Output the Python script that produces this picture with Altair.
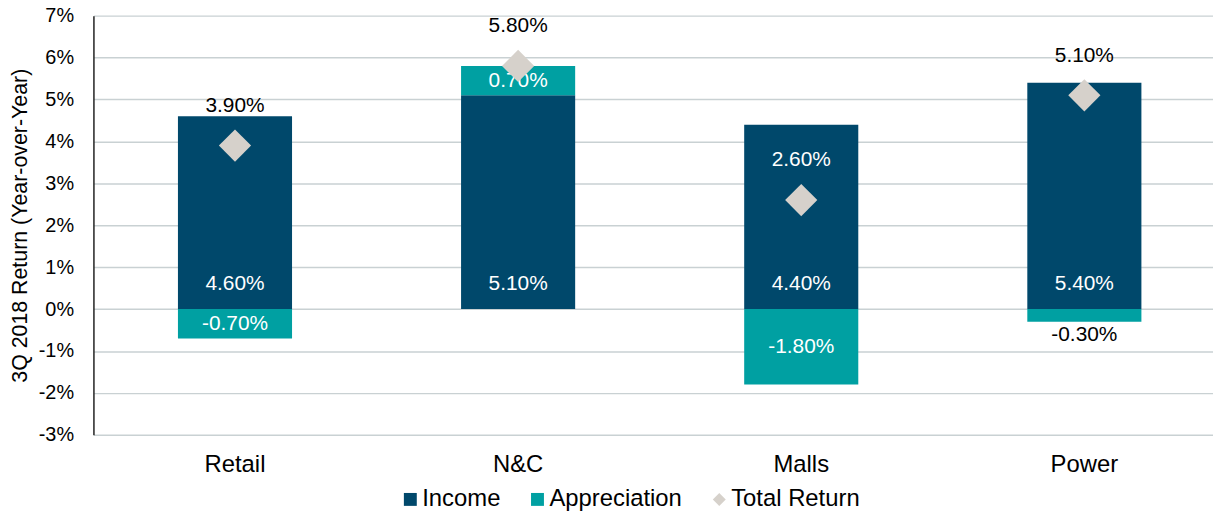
import altair as alt
import pandas as pd

categories = ["Retail", "N&C", "Malls", "Power"]
income = [4.6, 5.1, 4.4, 5.4]
appreciation = [-0.7, 0.7, -1.8, -0.3]
total_return = [3.9, 5.8, 2.6, 5.1]
series_names = ["Income", "Appreciation", "Total Return"]
series_colors = ["#00486B", "#00A0A2", "#D6D1CB"]
series_shapes = ["square", "square", "diamond"]
y_ticks = [-3, -2, -1, 0, 1, 2, 3, 4, 5, 6, 7]
y_title = "3Q 2018 Return (Year-over-Year)"

FONT = "Liberation Sans"

rows = []
for c, inc, app in zip(categories, income, appreciation):
    rows.append(dict(category=c, series="Income", start=0.0, end=inc, value=inc))
    if app >= 0:
        s, e = inc, inc + app
    else:
        s, e = 0.0, app
    rows.append(dict(category=c, series="Appreciation", start=s, end=e, value=app))
bars = pd.DataFrame(rows)
bars["mid"] = (bars["start"] + bars["end"]) / 2
bars["label"] = bars["value"].map(lambda v: f"{v:.2f}%")

tot = pd.DataFrame(dict(
    category=categories,
    series="Total Return",
    value=total_return,
    top=[i + max(a, 0) for i, a in zip(income, appreciation)],
))
tot["label"] = tot["value"].map(lambda v: f"{v:.2f}%")

color_scale = alt.Scale(domain=series_names, range=series_colors)
shape_scale = alt.Scale(domain=series_names, range=series_shapes)

x_enc = alt.X(
    "category:N",
    sort=categories,
    scale=alt.Scale(range=[0, 1140], paddingInner=0.597, paddingOuter=0.2985),
    axis=alt.Axis(title=None, domain=False, ticks=False, tickSize=0, labelAngle=0,
                  labelFont=FONT, labelFontSize=24, labelColor="#000000",
                  labelPadding=18),
)

y_scale = alt.Scale(domain=[-3, 7], nice=False, zero=False)

legend = alt.Legend(
    title=None, orient="none", legendX=307, legendY=475, direction="horizontal",
    labelFont=FONT, labelFontSize=24, labelColor="#000000", symbolSize=169,
    symbolStrokeWidth=0, labelOffset=0, columnPadding=25, padding=0,
    symbolOpacity=1,
)

bar_layer = alt.Chart(bars).mark_bar(opacity=1).encode(
    x=x_enc,
    y=alt.Y("start:Q", scale=y_scale, axis=alt.Axis(
        values=y_ticks, labelExpr="datum.value + '%'", grid=True,
        gridColor="#C9D1D3", gridWidth=1.5, domain=True, domainColor="#222222",
        domainWidth=1.5, ticks=False, tickSize=0, labelPadding=20,
        labelFont=FONT, labelFontSize=20, labelColor="#000000",
        title=y_title, titleFont=FONT, titleFontSize=21.5, titleFontWeight="normal",
        titleColor="#000000", titlePadding=7)),
    y2="end:Q",
    color=alt.Color("series:N", scale=color_scale, legend=legend),
)

income_text = alt.Chart(bars).transform_filter(
    alt.datum.series == "Income"
).mark_text(font=FONT, fontSize=21, color="white", baseline="middle", dy=-25).encode(
    x=alt.X("category:N", sort=categories),
    y=alt.Y("start:Q", scale=y_scale),
    text="label:N",
)

app_inside = alt.Chart(bars).transform_filter(
    "datum.series == 'Appreciation' && abs(datum.value) >= 0.5"
).mark_text(font=FONT, fontSize=21, color="white", baseline="middle").encode(
    x=alt.X("category:N", sort=categories),
    y=alt.Y("mid:Q", scale=y_scale),
    text="label:N",
)

app_outside = alt.Chart(bars).transform_filter(
    "datum.series == 'Appreciation' && abs(datum.value) < 0.5"
).mark_text(font=FONT, fontSize=21, color="black", baseline="middle", dy=13).encode(
    x=alt.X("category:N", sort=categories),
    y=alt.Y("end:Q", scale=y_scale),
    text="label:N",
)

points = alt.Chart(tot).mark_point(filled=True, size=1050,
                                   opacity=1, strokeWidth=0).encode(
    x=alt.X("category:N", sort=categories),
    y=alt.Y("value:Q", scale=y_scale),
    color=alt.Color("series:N", scale=color_scale, legend=legend),
    shape=alt.Shape("series:N", scale=shape_scale, legend=legend),
)

tot_text = alt.Chart(tot).mark_text(font=FONT, fontSize=21, baseline="middle",
                                    dy=-40).encode(
    x=alt.X("category:N", sort=categories),
    y=alt.Y("value:Q", scale=y_scale),
    text="label:N",
    color=alt.condition("datum.value + 0.95 < datum.top", alt.value("white"),
                        alt.value("black")),
)

chart = alt.layer(bar_layer, income_text, app_inside, app_outside, points, tot_text).properties(
    width=1127, height=422,
    autosize=alt.AutoSizeParams(type="none"),
    padding={"left": 86, "top": 6, "right": 0, "bottom": 79},
    background="white",
).configure_view(stroke=None)

chart.save("out.html", embed_options={"renderer": "svg", "actions": False})
